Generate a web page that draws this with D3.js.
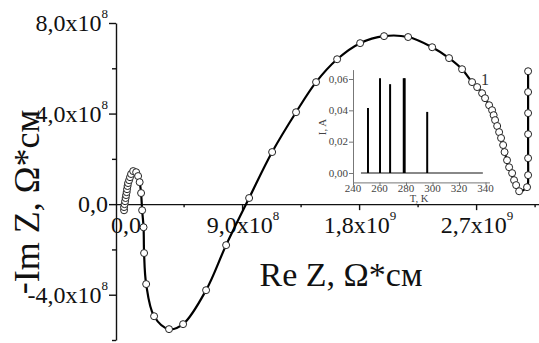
<!DOCTYPE html>
<html>
<head>
<meta charset="utf-8">
<script src="https://cdn.jsdelivr.net/npm/d3@7/dist/d3.min.js"></script>
<style>
  body { margin: 0; background: #fff; }
  svg { display: block; }
  text { font-family: "Liberation Serif", Tinos, "Times New Roman", Times, serif; }
</style>
</head>
<body>
<div id="chart"></div>
<script>
"use strict";

const serif = "'Liberation Serif', Tinos, 'Times New Roman', Times, serif";

// impedance hodograph, both components in units of 1e8 Ohm*cm
const reZ = [
  -0.08, -0.08, -0.04, 0.00, 0.04, 0.08, 0.12, 0.15, 0.19, 0.23, 0.31, 0.38, 0.46, 0.62,
  0.85, 1.00, 1.12, 1.23, 1.31, 1.42, 1.46, 1.62, 2.23, 3.38, 4.46, 6.23, 7.77, 9.54,
  11.31, 13.15, 14.69, 16.31, 18.08, 19.92, 21.77, 23.62, 24.92, 25.92, 26.69, 27.08,
  27.46, 27.69, 28.00, 28.23, 28.35, 28.46, 28.62, 28.77, 28.92, 29.08, 29.19, 29.38,
  29.54, 29.77, 29.92, 30.08, 30.31, 30.92, 31.00, 31.00, 31.00, 31.00, 31.00, 31.00
];
const negImZ = [
  -0.27, -0.13, 0.00, 0.13, 0.27, 0.40, 0.53, 0.66, 0.80, 0.93, 1.06, 1.19, 1.33, 1.46,
  1.41, 1.24, 0.97, 0.49, -0.27, -1.02, -2.16, -3.53, -4.95, -5.52, -5.30, -3.80, -1.81, 0.27,
  2.30, 4.06, 5.39, 6.40, 7.11, 7.42, 7.38, 6.93, 6.45, 5.96, 5.39, 5.17,
  4.90, 4.68, 4.37, 4.15, 3.93, 3.71, 3.45, 3.18, 2.92, 2.61, 2.30, 1.94,
  1.63, 1.37, 1.06, 0.84, 0.57, 0.75, 1.28, 2.03, 3.09, 4.02, 4.95, 5.87
];

const xMajorTicks = [0, 9, 18, 27];
const xMinorTicks = [4.5, 13.5, 22.5, 31.5];
const xTickLabels = [["0,0", ""], ["9,0x10", "8"], ["1,8x10", "9"], ["2,7x10", "9"]];
const yMajorTicks = [-4, 0, 4, 8];
const yMinorTicks = [-6, -2, 2, 6];
const yTickLabels = [["-4,0x10", "8"], ["0,0", ""], ["4,0x10", "8"], ["8,0x10", "8"]];

// inset: current vs temperature
const insetBaseT = [246, 338];
const peakT = [251.3, 260.4, 268.0, 278.3, 279.0, 296.0];
const peakI = [0.0415, 0.0605, 0.0567, 0.0605, 0.0605, 0.039];
const insetXTicks = [240, 260, 280, 300, 320, 340];
const insetYTicks = [0, 0.02, 0.04, 0.06];
const insetYLabels = ["0,00", "0,02", "0,04", "0,06"];

const width = 539, height = 343;

const svg = d3.select("#chart")
  .append("svg")
  .attr("width", width)
  .attr("height", height)
  .attr("font-family", serif);

svg.append("rect").attr("width", width).attr("height", height).attr("fill", "#fff");

const x = d3.scaleLinear().domain([-0.7, 32]).range([116, 116 + 32.7 * 13]);
const y = d3.scaleLinear().domain([-6, 8]).range([340, 23]);

// ---- main axes
const yAxis = svg.append("g").attr("transform", "translate(" + x(-0.7) + ",0)");
yAxis.call(d3.axisLeft(y).tickValues(yMajorTicks).tickSize(7).tickSizeOuter(0).tickFormat(""));
const yMinor = svg.append("g").attr("transform", "translate(" + x(-0.7) + ",0)");
yMinor.call(d3.axisLeft(y).tickValues(yMinorTicks).tickSize(4).tickSizeOuter(0).tickFormat(""));
yMinor.select(".domain").remove();

const xAxis = svg.append("g").attr("transform", "translate(0," + y(0) + ")");
xAxis.call(d3.axisBottom(x).tickValues(xMajorTicks).tickSize(6).tickSizeOuter(0).tickFormat(""));
const xMinor = svg.append("g").attr("transform", "translate(0," + y(0) + ")");
xMinor.call(d3.axisBottom(x).tickValues(xMinorTicks).tickSize(3).tickSizeOuter(0).tickFormat(""));
xMinor.select(".domain").remove();

svg.selectAll(".domain, .tick line")
  .attr("stroke", "#111")
  .attr("stroke-width", 1.4);

// tick labels with superscript powers
const yLab = svg.append("g").selectAll("text")
  .data(yMajorTicks)
  .join("text")
  .attr("x", 108)
  .attr("y", d => y(d) + 8)
  .attr("text-anchor", "end")
  .attr("font-family", serif)
  .attr("font-size", 24)
  .attr("fill", "#111");
yLab.append("tspan").text((d, i) => yTickLabels[i][0]);
yLab.append("tspan").attr("dy", -13).attr("font-size", 13).text((d, i) => yTickLabels[i][1]);

const xLab = svg.append("g").selectAll("text")
  .data(xMajorTicks)
  .join("text")
  .attr("x", d => x(d) + 1)
  .attr("y", 233)
  .attr("text-anchor", "middle")
  .attr("font-family", serif)
  .attr("font-size", 24)
  .attr("fill", "#111");
xLab.append("tspan").text((d, i) => xTickLabels[i][0]);
xLab.append("tspan").attr("dy", -13).attr("font-size", 13).text((d, i) => xTickLabels[i][1]);

// axis titles
svg.append("text")
  .attr("x", 341)
  .attr("y", 286)
  .attr("text-anchor", "middle")
  .attr("font-family", serif)
  .attr("font-size", 34)
  .attr("fill", "#111")
  .text("Re Z, \u03A9*\u0441\u043C");

const yTitle = svg.append("text")
  .attr("transform", "translate(39,202) rotate(-90)")
  .attr("text-anchor", "middle")
  .attr("font-family", serif)
  .attr("font-size", 36)
  .attr("fill", "#111");
yTitle.append("tspan").attr("dy", -5).text("-");
yTitle.append("tspan").attr("dy", 5).text("Im Z, \u03A9*\u0441\u043C");

// ---- curve + markers
const pts = reZ.map((v, i) => [v, negImZ[i]]);
const line = d3.line()
  .x(d => x(d[0]))
  .y(d => y(d[1]))
  .curve(d3.curveCatmullRom.alpha(0.5));

svg.append("path")
  .datum(pts)
  .attr("d", line)
  .attr("fill", "none")
  .attr("stroke", "#000")
  .attr("stroke-width", 2.2);

svg.append("g").selectAll("circle")
  .data(pts)
  .join("circle")
  .attr("cx", d => x(d[0]))
  .attr("cy", d => y(d[1]))
  .attr("r", 3.5)
  .attr("fill", "#fff")
  .attr("stroke", "#222")
  .attr("stroke-width", 1);

svg.append("text")
  .attr("x", 481)
  .attr("y", 85)
  .attr("font-family", "'Liberation Sans', Arial, sans-serif")
  .attr("font-size", 16)
  .attr("fill", "#333")
  .text("1");

// ---- inset
const ix = d3.scaleLinear().domain([240, 343]).range([353, 353 + 103 * 1.325]);
const iy = d3.scaleLinear().domain([-0.006, 0.066]).range([182.4, 69.6]);
const inset = svg.append("g").attr("font-family", serif);

const iyAxis = inset.append("g").attr("transform", "translate(" + ix(240) + ",0)");
iyAxis.call(d3.axisLeft(iy).tickValues(insetYTicks).tickSize(4).tickSizeOuter(0).tickFormat(""));
const ixAxis = inset.append("g").attr("transform", "translate(0," + iy(-0.006) + ")");
ixAxis.call(d3.axisBottom(ix).tickValues(insetXTicks).tickSize(3).tickSizeOuter(0).tickFormat(""));
inset.selectAll(".domain, .tick line")
  .attr("stroke", "#777")
  .attr("stroke-width", 1);

inset.append("g").selectAll("text")
  .data(insetYTicks)
  .join("text")
  .attr("x", 348)
  .attr("y", d => iy(d) + 3.5)
  .attr("text-anchor", "end")
  .attr("font-family", serif)
  .attr("font-size", 11)
  .attr("fill", "#444")
  .text((d, i) => insetYLabels[i]);

inset.append("g").selectAll("text")
  .data(insetXTicks)
  .join("text")
  .attr("x", d => ix(d))
  .attr("y", 192)
  .attr("text-anchor", "middle")
  .attr("font-family", serif)
  .attr("font-size", 11)
  .attr("fill", "#444")
  .text(d => d);

inset.append("text")
  .attr("x", 419)
  .attr("y", 202)
  .attr("text-anchor", "middle")
  .attr("font-family", serif)
  .attr("font-size", 10.5)
  .attr("fill", "#444")
  .text("T, K");

inset.append("text")
  .attr("transform", "translate(326,127) rotate(-90)")
  .attr("text-anchor", "middle")
  .attr("font-family", serif)
  .attr("font-size", 11)
  .attr("fill", "#444")
  .text("I, A");

inset.append("line")
  .attr("x1", ix(insetBaseT[0]))
  .attr("x2", ix(insetBaseT[1]))
  .attr("y1", iy(0))
  .attr("y2", iy(0))
  .attr("stroke", "#888")
  .attr("stroke-width", 2.2);

inset.append("g").selectAll("line")
  .data(peakT)
  .join("line")
  .attr("x1", d => ix(d))
  .attr("x2", d => ix(d))
  .attr("y1", iy(0))
  .attr("y2", (d, i) => iy(peakI[i]))
  .attr("stroke", "#000")
  .attr("stroke-width", 2);
</script>
</body>
</html>
